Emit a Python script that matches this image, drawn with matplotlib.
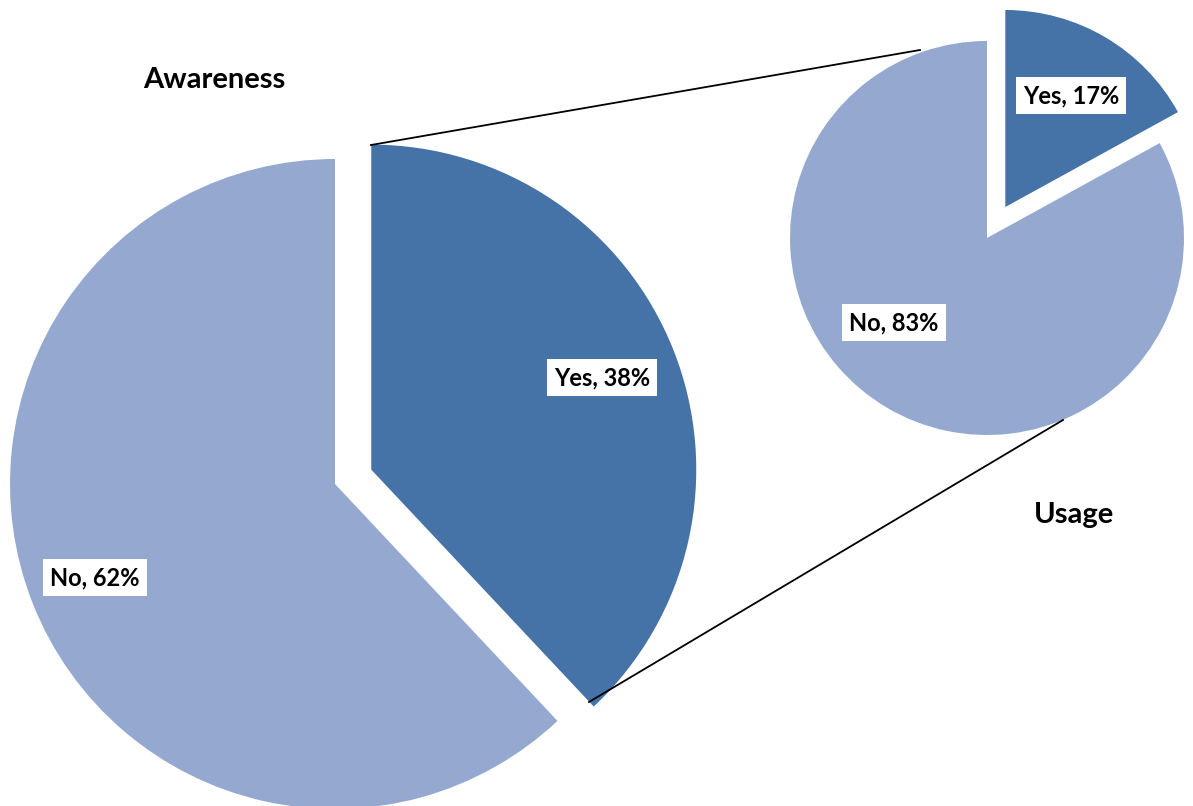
import matplotlib
matplotlib.use("Agg")
import matplotlib.pyplot as plt

# data
labels = ["Yes", "No"]
awareness = [38, 62]
usage = [17, 83]

dark = "#4572A7"
light = "#95A9D0"

W, H = 1193, 806

fig = plt.figure(figsize=(W / 100, H / 100), dpi=100)
ax = fig.add_axes([0, 0, 1, 1])

def draw_pie(values, center, radius, gap):
    # explode in pie() is in data units, not a fraction of the radius
    wedges, _ = ax.pie(values, colors=[dark, light], startangle=90,
                       counterclock=False, explode=[gap, 0],
                       center=center, radius=radius,
                       wedgeprops=dict(linewidth=0))
    return wedges

# pixel coords with y up
draw_pie(awareness, (335, H - 484), 325, 39)
draw_pie(usage, (987, H - 238), 197, 36)

font = ["Lato", "DejaVu Sans"]
box = dict(facecolor="white", edgecolor="none", boxstyle="square,pad=0.3")

def label(x, y, name, val):
    ax.text(x, H - y, f"{name}, {val}%", ha="center", va="baseline",
            fontsize=17, fontweight="bold", family=font, bbox=box)

label(602, 385, labels[0], awareness[0])
label(95, 585, labels[1], awareness[1])
label(1071, 103, labels[0], usage[0])
label(894, 330, labels[1], usage[1])

ax.text(214, H - 88, "Awareness", ha="center", va="baseline",
        fontsize=21, fontweight="bold", family=font)
ax.text(1074, H - 523, "Usage", ha="center", va="baseline",
        fontsize=21, fontweight="bold", family=font)

# connector lines
ax.plot([371, 920], [H - 145, H - 50], color="black", lw=1.3)
ax.plot([589, 1063], [H - 702, H - 420], color="black", lw=1.3)

ax.set_xlim(0, W)
ax.set_ylim(0, H)
ax.set_aspect("equal")
ax.axis("off")

fig.savefig("out.png", dpi=100)
